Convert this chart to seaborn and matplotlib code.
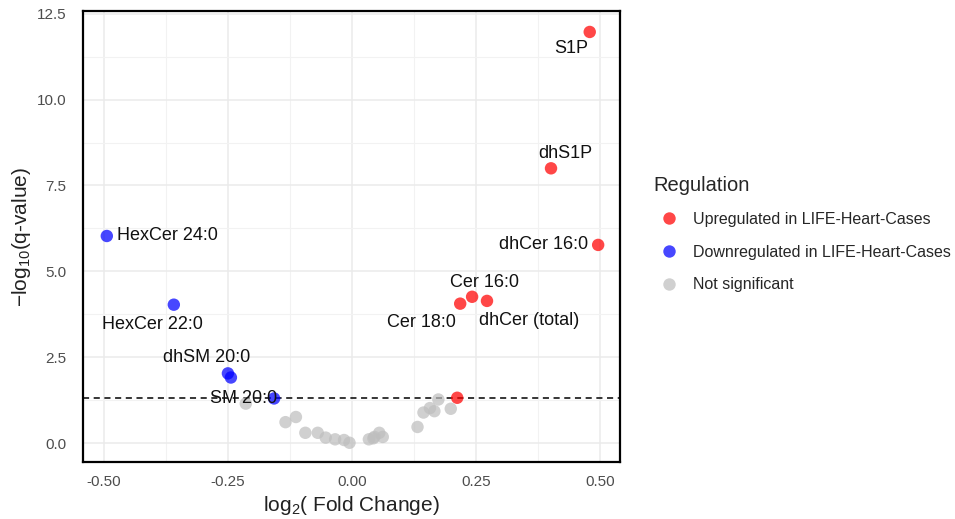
import matplotlib
matplotlib.use("Agg")
import matplotlib.pyplot as plt
import seaborn as sns
import pandas as pd
import numpy as np

# ---- data ----
lipids = ["S1P", "dhS1P", "dhCer 16:0", "Cer 16:0", "Cer 18:0", "dhCer (total)", "Up7",
          "HexCer 24:0", "HexCer 22:0", "dhSM 20:0", "dhSM2", "SM 20:0",
          "g1", "g2", "g3", "g4", "g5", "g6", "g7", "g8", "g9", "g10", "g11",
          "g12", "g13", "g14", "g15", "g16", "g17", "g18", "g19", "g20"]
log2fc = [0.479, 0.401, 0.496, 0.242, 0.218, 0.272, 0.212,
          -0.494, -0.359, -0.250, -0.244, -0.157,
          -0.214, -0.134, -0.113, -0.094, -0.069, -0.053, -0.034, -0.016, -0.005, 0.034, 0.045,
          0.043, 0.055, 0.062, 0.132, 0.144, 0.157, 0.166, 0.174, 0.199]
neglog10q = [11.97, 8.00, 5.77, 4.26, 4.06, 4.14, 1.32,
             6.03, 4.03, 2.03, 1.91, 1.30,
             1.15, 0.61, 0.76, 0.30, 0.30, 0.16, 0.11, 0.09, 0.01, 0.11, 0.18,
             0.14, 0.30, 0.18, 0.47, 0.89, 1.02, 0.93, 1.27, 1.00]
regulation = (["Upregulated in LIFE-Heart-Cases"] * 7 +
              ["Downregulated in LIFE-Heart-Cases"] * 5 +
              ["Not significant"] * 20)
labelled = ["S1P", "dhS1P", "dhCer 16:0", "Cer 16:0", "Cer 18:0", "dhCer (total)",
            "HexCer 24:0", "HexCer 22:0", "dhSM 20:0", "SM 20:0"]
x_ticks = [-0.50, -0.25, 0.00, 0.25, 0.50]
y_ticks = [0.0, 2.5, 5.0, 7.5, 10.0, 12.5]
threshold = 1.30

df = pd.DataFrame({"lipid": lipids, "log2fc": log2fc, "q": neglog10q, "Regulation": regulation})

sns.set_theme(style="white")
plt.rcParams["font.family"] = ["Liberation Sans", "DejaVu Sans"]
plt.rcParams["mathtext.fontset"] = "custom"
plt.rcParams["mathtext.rm"] = "Liberation Sans"
plt.rcParams["mathtext.it"] = "Liberation Sans:italic"

fig = plt.figure(figsize=(9.55, 5.19), dpi=100)
ax = fig.add_axes([83 / 955, 1 - 462 / 519, (620 - 83) / 955, (462 - 11) / 519])

palette = {"Upregulated in LIFE-Heart-Cases": "#ff0000",
           "Downregulated in LIFE-Heart-Cases": "#0000ff",
           "Not significant": "#bebebe"}
hue_order = ["Upregulated in LIFE-Heart-Cases", "Downregulated in LIFE-Heart-Cases", "Not significant"]

sns.scatterplot(data=df, x="log2fc", y="q", hue="Regulation", hue_order=hue_order,
                palette=palette, s=80, alpha=0.72, edgecolor="none", ax=ax, zorder=3)

ax.axhline(threshold, color="black", linestyle=(0, (4, 3)), linewidth=1.1, zorder=2)

ax.set_xlim(-0.542, 0.540)
ax.set_ylim(-0.55, 12.58)
ax.set_xticks(x_ticks)
ax.set_xticklabels([f"{v:.2f}" for v in x_ticks])
ax.set_yticks(y_ticks)
ax.set_yticklabels([f"{v:.1f}" for v in y_ticks])
ax.set_xticks([-0.375, -0.125, 0.125, 0.375], minor=True)
ax.set_yticks([1.25, 3.75, 6.25, 8.75, 11.25], minor=True)
ax.grid(True, which="major", color="#ebebeb", linewidth=1.1, zorder=0)
ax.grid(True, which="minor", color="#f2f2f2", linewidth=0.8, zorder=0)
ax.set_axisbelow(True)
ax.tick_params(axis="both", which="both", length=0, labelsize=11, labelcolor="#4d4d4d")
ax.tick_params(axis="y", pad=12)
ax.tick_params(axis="x", pad=9)
for sp in ax.spines.values():
    sp.set_visible(True)
    sp.set_color("black")
    sp.set_linewidth(1.6)

ax.set_xlabel(r"$\mathrm{log}_{2}$( Fold Change)", fontsize=15, color="#222222", labelpad=4)
ax.set_ylabel(r"$-\mathrm{log}_{10}$(q-value)", fontsize=15, color="#222222", labelpad=3)

# label offsets (pixels) and alignment
offsets = {
    "S1P": (-19, -17, "center"),
    "dhS1P": (14, 15, "center"),
    "dhCer 16:0": (-10, 0, "right"),
    "Cer 16:0": (12, 14, "center"),
    "Cer 18:0": (-39, -19, "center"),
    "dhCer (total)": (42, -20, "center"),
    "HexCer 24:0": (10, 0, "left"),
    "HexCer 22:0": (-21, -20, "center"),
    "dhSM 20:0": (-21, 16, "center"),
    "SM 20:0": (-31, 0, "center"),
}
for name in labelled:
    row = df[df["lipid"] == name].iloc[0]
    dx, dy, ha = offsets[name]
    ax.annotate(name, (row["log2fc"], row["q"]), xytext=(dx, dy), textcoords="offset pixels",
                ha=ha, va="center", fontsize=13, color="#111111", zorder=4)

handles, labels = ax.get_legend_handles_labels()
ax.get_legend().remove()
leg = fig.legend(handles, labels, title="Regulation", loc="upper left",
                 bbox_to_anchor=(653 / 955, 1 - 176 / 519),
                 frameon=False, fontsize=11.5, title_fontsize=14.5, markerscale=1.0,
                 handletextpad=0.5, labelspacing=1.12, borderpad=0, borderaxespad=0)
leg._legend_box.align = "left"
leg._legend_box.sep = 12
for h in leg.legend_handles:
    h.set_alpha(0.72)

fig.savefig("out.png", dpi=100, facecolor="white")
